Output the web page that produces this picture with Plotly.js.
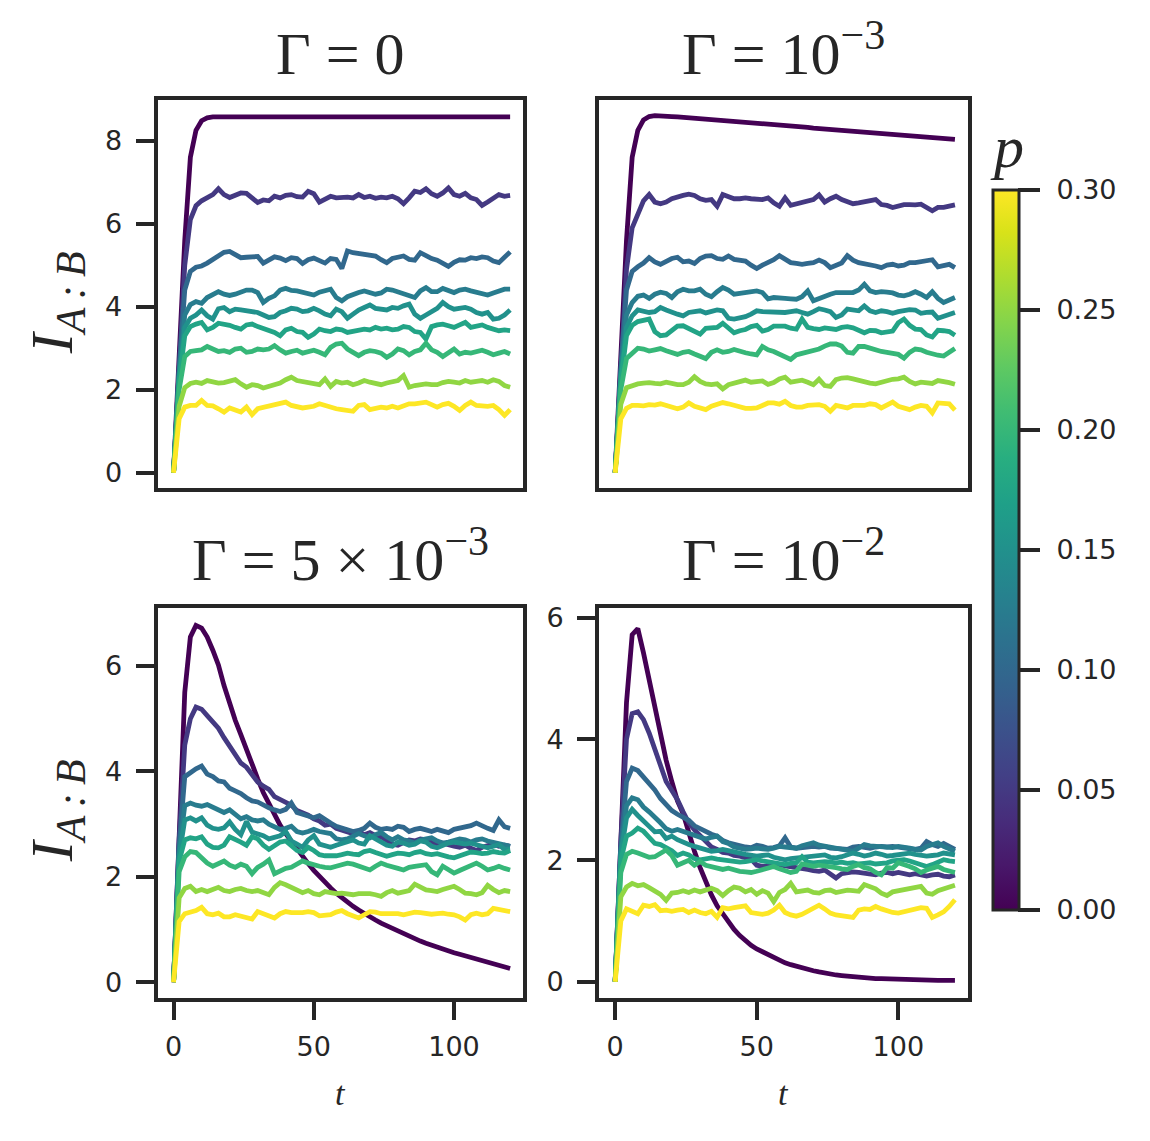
<!DOCTYPE html>
<html>
<head>
<meta charset="utf-8">
<script src="https://cdn.plot.ly/plotly-3.0.1.min.js"></script>
<style>html,body{margin:0;padding:0;background:#fff;}#chart{width:1150px;height:1141px;}</style>
</head>
<body>
<div id="chart"></div>
<script>
// ---------------- data ----------------
const T = [0,2,4,6,8,10,12,14,16,18,20,22,24,26,28,30,32,34,36,38,40,42,44,46,48,50,52,54,56,58,60,62,64,66,68,70,72,74,76,78,80,82,84,86,88,90,92,94,96,98,100,102,104,106,108,110,112,114,116,118,120];
const P_VALUES = [0, 0.05, 0.1, 0.125, 0.15, 0.175, 0.2, 0.25, 0.3];
const P_MAX = 0.3;
const CB_TICKS = [0, 0.05, 0.1, 0.15, 0.2, 0.25, 0.3];
const PANEL_TITLES = ['Γ = 0', 'Γ = 10<sup>−3</sup>', 'Γ = 5 × 10<sup>−3</sup>', 'Γ = 10<sup>−2</sup>'];
const X_TICKS = [0, 50, 100];
const Y_TICKS_TOP = [0, 2, 4, 6, 8];
const Y_TICKS_BOTTOM = [0, 2, 4, 6];

// Gamma = 0
const G0_P000 = [0,2.70,5.60,7.60,8.25,8.48,8.55,8.57,8.57,8.57, 8.57,8.57,8.58,8.57,8.57,8.57,8.57,8.57,8.58,8.57, 8.57,8.57,8.57,8.57,8.57,8.58,8.57,8.57,8.57,8.57, 8.57,8.57,8.58,8.57,8.57,8.57,8.57,8.57,8.57,8.57, 8.57,8.58,8.57,8.57,8.57,8.57,8.57,8.57,8.57,8.58, 8.57,8.57,8.57,8.57,8.57,8.57,8.57,8.57,8.56,8.57, 8.57];
const G0_P050 = [0,2.60,5.00,6.10,6.43,6.55,6.62,6.70,6.84,6.70, 6.63,6.70,6.74,6.73,6.62,6.51,6.57,6.55,6.66,6.62, 6.68,6.70,6.65,6.64,6.78,6.72,6.52,6.60,6.66,6.62, 6.63,6.64,6.62,6.70,6.63,6.66,6.61,6.64,6.62,6.66, 6.60,6.48,6.62,6.78,6.75,6.84,6.72,6.66,6.74,6.86, 6.70,6.66,6.73,6.62,6.58,6.44,6.52,6.62,6.70,6.66, 6.68];
const G0_P100 = [0,2.50,4.40,4.85,4.95,4.98,5.05,5.14,5.24,5.31, 5.33,5.25,5.18,5.19,5.21,5.21,5.05,5.12,5.20,5.17, 5.11,5.18,5.16,5.04,5.13,5.17,5.10,5.05,5.16,5.14, 4.92,5.34,5.30,5.28,5.26,5.24,5.22,5.13,5.06,5.16, 5.18,5.22,5.14,5.12,5.30,5.22,5.16,5.12,5.04,4.97, 5.07,5.13,5.12,5.18,5.16,5.20,5.18,5.10,5.06,5.20, 5.32];
const G0_P125 = [0,2.40,3.80,4.05,4.12,4.08,4.22,4.28,4.36,4.30, 4.27,4.30,4.36,4.40,4.40,4.34,4.10,4.20,4.26,4.40, 4.44,4.39,4.38,4.34,4.32,4.28,4.35,4.40,4.42,4.22, 4.14,4.24,4.30,4.34,4.38,4.33,4.30,4.33,4.42,4.40, 4.36,4.32,4.26,4.22,4.38,4.46,4.36,4.36,4.44,4.40, 4.34,4.40,4.42,4.38,4.34,4.32,4.28,4.33,4.38,4.42, 4.42];
const G0_P150 = [0,2.30,3.50,3.72,3.80,3.92,3.78,3.70,3.95,3.98, 3.88,3.94,3.92,3.90,3.89,3.86,3.80,3.74,3.76,3.86, 3.90,3.96,3.94,3.88,3.90,3.96,3.90,3.82,3.78,3.94, 3.88,3.72,3.82,3.92,3.98,4.04,3.96,3.94,3.92,3.98, 3.96,4.02,4.06,3.82,3.72,3.80,3.88,3.96,4.10,4.00, 3.94,3.96,3.98,3.94,3.86,3.82,3.86,3.70,3.72,3.80, 3.92];
const G0_P175 = [0,2.20,3.30,3.52,3.58,3.62,3.44,3.50,3.60,3.58, 3.55,3.50,3.46,3.56,3.58,3.52,3.48,3.43,3.38,3.30, 3.44,3.48,3.40,3.38,3.26,3.34,3.46,3.42,3.40,3.46, 3.44,3.38,3.40,3.44,3.46,3.44,3.50,3.46,3.48,3.44, 3.46,3.52,3.50,3.40,3.38,3.22,3.52,3.56,3.58,3.54, 3.50,3.56,3.62,3.50,3.52,3.56,3.50,3.46,3.42,3.44, 3.42];
const G0_P200 = [0,2.00,2.80,2.92,2.94,2.96,3.04,2.98,2.92,2.94, 2.90,2.98,3.00,2.90,2.92,2.98,2.96,2.98,3.06,2.96, 2.88,2.92,2.95,2.88,2.92,2.95,2.90,2.84,3.02,3.10, 3.12,2.98,2.90,2.82,2.90,2.94,2.92,2.88,2.78,2.86, 2.98,2.94,2.84,2.92,2.96,3.12,2.96,2.90,2.80,2.88, 2.98,2.86,2.90,2.88,2.92,2.95,2.90,2.84,2.88,2.92, 2.86];
const G0_P250 = [0,1.60,2.05,2.15,2.18,2.15,2.22,2.20,2.16,2.17, 2.20,2.24,2.14,2.06,2.12,2.10,2.04,2.08,2.12,2.16, 2.24,2.30,2.22,2.20,2.17,2.14,2.12,2.26,2.08,2.20, 2.16,2.18,2.12,2.16,2.22,2.18,2.15,2.12,2.16,2.20, 2.22,2.34,2.06,2.10,2.12,2.14,2.12,2.12,2.17,2.20, 2.18,2.16,2.22,2.18,2.20,2.22,2.18,2.24,2.20,2.10, 2.06];
const G0_P300 = [0,1.30,1.58,1.62,1.62,1.74,1.62,1.61,1.54,1.46, 1.56,1.52,1.46,1.58,1.40,1.54,1.57,1.60,1.62,1.66, 1.70,1.62,1.60,1.56,1.58,1.60,1.66,1.62,1.56,1.54, 1.52,1.50,1.48,1.62,1.64,1.52,1.56,1.58,1.56,1.60, 1.56,1.62,1.66,1.66,1.68,1.70,1.64,1.58,1.64,1.67, 1.60,1.50,1.62,1.70,1.62,1.60,1.60,1.62,1.52,1.38, 1.52];

// Gamma = 1e-3
const G1_P000 = [0,2.70,5.60,7.60,8.25,8.50,8.58,8.60,8.60,8.59, 8.58,8.57,8.56,8.55,8.54,8.53,8.52,8.51,8.50,8.48, 8.47,8.46,8.45,8.44,8.43,8.42,8.40,8.39,8.38,8.37, 8.36,8.35,8.34,8.33,8.32,8.30,8.29,8.28,8.27,8.26, 8.25,8.24,8.23,8.22,8.21,8.19,8.18,8.17,8.16,8.15, 8.14,8.13,8.12,8.11,8.10,8.09,8.08,8.07,8.06,8.04, 8.03];
const G1_P050 = [0,2.60,4.90,5.90,6.25,6.55,6.70,6.52,6.48,6.52, 6.60,6.65,6.68,6.71,6.68,6.60,6.56,6.58,6.42,6.70, 6.66,6.60,6.60,6.62,6.60,6.60,6.58,6.62,6.50,6.42, 6.62,6.44,6.48,6.52,6.55,6.58,6.69,6.52,6.60,6.66, 6.58,6.54,6.48,6.50,6.52,6.56,6.58,6.46,6.44,6.39, 6.44,6.46,6.46,6.45,6.47,6.40,6.31,6.39,6.39,6.42, 6.45];
const G1_P100 = [0,2.50,4.40,4.85,4.96,5.05,5.18,5.08,5.02,5.10, 5.16,5.19,5.08,5.10,5.04,5.16,5.22,5.23,5.16,5.14, 5.22,5.14,5.12,5.10,5.00,4.92,5.00,5.06,5.13,5.23, 5.14,5.06,5.04,5.02,5.04,5.06,5.12,5.06,4.94,4.98, 5.05,5.23,5.12,5.06,5.04,5.02,4.98,4.94,5.00,5.02, 4.98,5.00,5.06,5.06,5.08,5.10,5.13,4.96,5.00,5.02, 4.94];
const G1_P125 = [0,2.40,3.80,4.10,4.25,4.28,4.20,4.30,4.35,4.32, 4.22,4.36,4.42,4.38,4.38,4.42,4.30,4.24,4.36,4.46, 4.40,4.30,4.32,4.34,4.36,4.38,4.34,4.19,4.22,4.22, 4.20,4.19,4.18,4.24,4.38,4.14,4.20,4.24,4.30,4.34, 4.35,4.34,4.34,4.40,4.54,4.38,4.34,4.36,4.35,4.33, 4.28,4.26,4.30,4.36,4.30,4.22,4.36,4.20,4.10,4.16, 4.22];
const G1_P150 = [0,2.30,3.50,3.78,3.92,3.90,3.86,3.88,3.98,3.92, 3.86,3.82,3.78,3.86,3.88,3.90,3.85,3.90,3.92,3.90, 3.72,3.70,3.72,3.76,3.82,3.90,3.88,3.87,3.86,3.87, 3.86,3.88,3.90,3.86,3.82,3.88,3.95,3.92,3.88,3.74, 3.80,3.94,3.92,3.90,4.02,3.90,3.86,3.90,3.88,3.84, 3.88,3.90,3.93,3.92,3.84,3.86,3.87,3.72,3.76,3.80, 3.86];
const G1_P175 = [0,2.20,3.30,3.55,3.64,3.68,3.70,3.40,3.30,3.32, 3.44,3.53,3.54,3.48,3.40,3.34,3.48,3.48,3.50,3.60, 3.48,3.37,3.42,3.45,3.52,3.55,3.41,3.45,3.53,3.53, 3.53,3.48,3.46,3.70,3.50,3.47,3.45,3.49,3.48,3.45, 3.50,3.52,3.49,3.44,3.37,3.43,3.42,3.37,3.39,3.41, 3.61,3.70,3.55,3.46,3.45,3.32,3.27,3.43,3.42,3.40, 3.31];
const G1_P200 = [0,2.00,2.75,2.88,3.00,2.98,2.93,2.96,2.99,2.94, 2.90,2.85,2.90,2.92,2.86,2.80,2.75,2.90,2.96,2.90, 2.92,2.97,2.92,2.89,2.86,2.84,3.04,2.96,2.92,2.86, 2.80,2.73,2.84,2.88,2.90,2.94,2.98,3.05,3.10,3.10, 3.05,2.90,2.88,3.04,3.04,3.00,2.95,2.92,2.90,2.88, 2.85,2.76,2.90,2.98,2.96,2.90,2.85,2.83,2.81,2.90, 2.99];
const G1_P250 = [0,1.65,2.05,2.10,2.14,2.16,2.17,2.15,2.14,2.18, 2.14,2.12,2.12,2.18,2.31,2.20,2.14,2.12,2.14,2.02, 2.12,2.15,2.20,2.23,2.18,2.20,2.21,2.13,2.17,2.26, 2.30,2.18,2.20,2.23,2.18,2.12,2.25,2.10,2.08,2.24, 2.28,2.29,2.26,2.22,2.18,2.16,2.14,2.18,2.21,2.25, 2.26,2.30,2.20,2.14,2.18,2.16,2.15,2.22,2.20,2.17, 2.13];
const G1_P300 = [0,1.30,1.55,1.62,1.62,1.61,1.64,1.63,1.66,1.62, 1.56,1.54,1.58,1.68,1.60,1.55,1.52,1.60,1.66,1.69, 1.66,1.63,1.60,1.55,1.55,1.56,1.62,1.68,1.68,1.65, 1.72,1.62,1.58,1.58,1.62,1.64,1.64,1.60,1.48,1.62, 1.60,1.56,1.62,1.62,1.62,1.66,1.64,1.56,1.62,1.70, 1.60,1.57,1.52,1.58,1.62,1.60,1.44,1.68,1.67,1.66, 1.51];

// Gamma = 5e-3
const G2_P000 = [0,3.00,5.50,6.55,6.77,6.72,6.55,6.30,6.02,5.63, 5.28,4.97,4.70,4.40,4.12,3.86,3.60,3.38,3.18,2.98, 2.82,2.67,2.52,2.38,2.25,2.12,2.00,1.89,1.79,1.69, 1.60,1.52,1.44,1.37,1.30,1.24,1.18,1.12,1.07,1.01, 0.96,0.91,0.87,0.82,0.78,0.74,0.70,0.66,0.62,0.59, 0.56,0.53,0.50,0.47,0.44,0.41,0.38,0.35,0.32,0.29, 0.26];
const G2_P050 = [0,2.70,4.50,5.00,5.22,5.18,5.06,4.95,4.82,4.64, 4.48,4.30,4.16,4.08,3.92,3.80,3.72,3.66,3.52,3.46, 3.42,3.36,3.26,3.22,3.17,3.10,3.06,2.98,3.00,2.92, 2.88,2.84,2.82,2.86,2.80,2.84,2.78,2.76,2.70,2.62, 2.60,2.66,2.70,2.68,2.72,2.70,2.66,2.62,2.64,2.60, 2.58,2.56,2.60,2.54,2.50,2.56,2.60,2.62,2.58,2.60, 2.58];
const G2_P100 = [0,2.60,3.90,3.98,4.05,4.10,3.95,3.90,3.82,3.80, 3.68,3.63,3.58,3.50,3.44,3.42,3.36,3.31,3.27,3.24, 3.28,3.40,3.22,3.18,3.14,3.12,3.16,3.08,3.02,2.96, 2.92,2.90,2.86,2.88,2.92,3.02,2.94,2.90,2.92,2.90, 2.96,2.94,2.86,2.90,2.92,2.89,2.86,2.90,2.87,2.84, 2.90,2.92,2.94,2.97,3.02,2.96,2.92,2.88,3.08,2.95, 2.92];
const G2_P125 = [0,2.50,3.35,3.40,3.36,3.34,3.37,3.32,3.28,3.22, 3.27,3.18,3.10,3.14,3.08,3.06,3.08,3.00,2.96,2.90, 2.92,2.96,2.86,2.83,2.86,2.90,2.86,2.84,2.82,2.72, 2.70,2.72,2.78,2.82,2.78,2.74,2.80,2.84,2.76,2.70, 2.76,2.70,2.68,2.64,2.70,2.72,2.74,2.68,2.64,2.66, 2.68,2.72,2.70,2.66,2.70,2.72,2.68,2.66,2.62,2.60, 2.58];
const G2_P150 = [0,2.40,3.08,3.12,3.06,3.12,2.98,2.92,2.90,2.93, 3.04,2.90,2.80,3.05,2.85,2.82,2.78,2.72,2.76,2.78, 2.86,2.68,2.62,2.56,2.70,2.78,2.62,2.58,2.56,2.60, 2.64,2.68,2.70,2.64,2.62,2.78,2.72,2.64,2.60,2.58, 2.66,2.64,2.60,2.62,2.68,2.66,2.58,2.55,2.60,2.64, 2.66,2.64,2.62,2.64,2.60,2.58,2.55,2.58,2.61,2.52, 2.53];
const G2_P175 = [0,2.30,2.70,2.74,2.72,2.76,2.62,2.56,2.55,2.60, 2.76,2.72,2.66,2.60,2.76,2.72,2.60,2.52,2.58,2.66, 2.68,2.60,2.50,2.46,2.56,2.50,2.42,2.40,2.39,2.40, 2.42,2.45,2.43,2.42,2.48,2.50,2.46,2.42,2.39,2.42, 2.45,2.44,2.42,2.46,2.48,2.44,2.42,2.44,2.40,2.38, 2.36,2.40,2.45,2.47,2.46,2.44,2.45,2.48,2.46,2.45, 2.50];
const G2_P200 = [0,2.10,2.38,2.48,2.46,2.36,2.26,2.20,2.24,2.30, 2.22,2.18,2.24,2.20,2.06,2.18,2.24,2.32,2.06,2.12, 2.16,2.18,2.24,2.30,2.26,2.22,2.20,2.18,2.17,2.20, 2.23,2.26,2.24,2.20,2.16,2.13,2.20,2.26,2.22,2.18, 2.16,2.13,2.18,2.20,2.22,2.23,2.10,2.04,2.20,2.14, 2.07,2.12,2.17,2.22,2.26,2.20,2.13,2.16,2.20,2.16, 2.13];
const G2_P250 = [0,1.60,1.78,1.82,1.72,1.76,1.72,1.76,1.80,1.74, 1.72,1.76,1.78,1.74,1.72,1.74,1.70,1.66,1.80,1.89, 1.85,1.80,1.74,1.70,1.74,1.68,1.66,1.72,1.70,1.68, 1.69,1.67,1.66,1.68,1.69,1.68,1.66,1.63,1.70,1.74, 1.69,1.72,1.74,1.86,1.80,1.75,1.74,1.72,1.76,1.78, 1.82,1.76,1.69,1.68,1.66,1.70,1.84,1.76,1.70,1.74, 1.72];
const G2_P300 = [0,1.15,1.30,1.33,1.36,1.42,1.30,1.28,1.31,1.24, 1.24,1.28,1.26,1.24,1.20,1.34,1.30,1.26,1.22,1.30, 1.34,1.32,1.31,1.32,1.34,1.32,1.26,1.26,1.28,1.33, 1.36,1.30,1.25,1.22,1.28,1.34,1.33,1.30,1.30,1.31, 1.30,1.28,1.30,1.33,1.32,1.30,1.29,1.30,1.31,1.29, 1.28,1.24,1.18,1.28,1.31,1.28,1.30,1.40,1.38,1.34, 1.34];

// Gamma = 1e-2
const G3_P000 = [0,2.40,4.60,5.72,5.82,5.42,4.96,4.50,4.06,3.65, 3.30,2.98,2.77,2.44,2.15,1.88,1.63,1.43,1.25,1.11, 0.98,0.86,0.76,0.67,0.60,0.54,0.49,0.44,0.39,0.35, 0.31,0.28,0.25,0.23,0.20,0.18,0.16,0.14,0.13,0.11, 0.10,0.09,0.08,0.07,0.065,0.06,0.05,0.05,0.045,0.04, 0.04,0.035,0.03,0.03,0.03,0.025,0.025,0.02,0.02,0.02, 0.02];
const G3_P050 = [0,2.30,4.00,4.42,4.45,4.32,4.10,3.85,3.55,3.30, 3.15,3.00,2.80,2.62,2.50,2.41,2.32,2.22,2.18,2.13, 2.12,2.08,2.07,2.04,2.02,1.92,1.90,1.91,1.92,1.93, 1.91,1.90,1.88,1.86,1.85,1.83,1.82,1.84,1.78,1.71, 1.78,1.80,1.81,1.80,1.79,1.78,1.76,1.79,1.80,1.78, 1.80,1.78,1.76,1.78,1.76,1.74,1.76,1.77,1.74,1.73, 1.76];
const G3_P100 = [0,2.20,3.30,3.52,3.48,3.38,3.26,3.16,3.02,2.92, 2.82,2.76,2.72,2.66,2.57,2.52,2.47,2.43,2.40,2.33, 2.29,2.26,2.23,2.22,2.21,2.25,2.23,2.20,2.21,2.24, 2.37,2.22,2.20,2.21,2.23,2.23,2.22,2.23,2.20,2.20, 2.19,2.18,2.22,2.23,2.21,2.20,2.22,2.23,2.22,2.23, 2.22,2.21,2.20,2.18,2.20,2.31,2.26,2.23,2.28,2.24, 2.18];
const G3_P125 = [0,2.15,2.90,3.03,3.00,2.88,2.80,2.72,2.62,2.52, 2.48,2.51,2.48,2.46,2.43,2.40,2.35,2.38,2.40,2.31, 2.28,2.22,2.19,2.18,2.19,2.20,2.19,2.18,2.20,2.23, 2.22,2.21,2.20,2.24,2.27,2.29,2.25,2.23,2.21,2.20, 2.18,2.16,2.15,2.20,2.26,2.24,2.23,2.22,2.20,2.21, 2.23,2.22,2.20,2.18,2.17,2.23,2.27,2.29,2.23,2.20, 2.15];
const G3_P150 = [0,2.10,2.70,2.84,2.74,2.64,2.56,2.47,2.48,2.36, 2.40,2.34,2.29,2.26,2.23,2.21,2.18,2.15,2.16,2.18, 2.16,2.13,2.12,2.10,2.09,2.07,2.08,2.09,2.05,2.02, 2.01,2.03,2.04,2.05,2.07,2.06,2.08,2.09,2.05,2.04, 2.06,2.10,2.12,2.10,2.07,2.09,2.12,2.10,2.07,2.08, 2.09,2.10,2.12,2.10,2.08,2.07,2.08,2.09,2.12,2.10, 2.09];
const G3_P175 = [0,2.00,2.40,2.45,2.53,2.48,2.38,2.28,2.26,2.22, 2.16,2.08,2.12,2.09,2.03,2.01,2.03,2.04,2.02,2.01, 1.99,1.97,1.97,1.98,1.99,2.01,1.99,1.97,1.96,1.94, 1.93,1.95,1.96,2.06,1.97,1.96,1.97,1.98,1.97,1.96, 1.97,1.95,1.96,1.94,1.95,1.96,1.94,1.95,1.96,1.99, 2.00,2.01,1.99,1.96,1.93,1.90,1.93,1.97,2.01,1.99, 1.98];
const G3_P200 = [0,1.80,2.10,2.15,2.12,2.08,2.05,2.06,2.12,2.17, 2.08,1.92,1.96,2.00,1.92,1.98,1.92,1.90,1.86,1.85, 1.87,1.84,1.82,1.81,1.80,1.82,1.84,1.86,1.90,1.86, 1.83,1.80,1.82,1.94,1.92,1.90,1.92,1.91,1.90,1.88, 1.86,1.85,1.90,1.93,1.88,1.86,1.80,1.76,1.88,1.87, 1.96,1.94,1.90,1.86,1.80,1.84,1.87,1.90,1.85,1.82, 1.80];
const G3_P250 = [0,1.40,1.56,1.62,1.58,1.60,1.55,1.50,1.44,1.34, 1.46,1.47,1.50,1.47,1.51,1.48,1.50,1.54,1.50,1.42, 1.50,1.56,1.54,1.48,1.52,1.44,1.50,1.46,1.32,1.47, 1.52,1.62,1.48,1.50,1.51,1.47,1.46,1.50,1.51,1.47, 1.49,1.51,1.50,1.49,1.60,1.56,1.53,1.46,1.42,1.48, 1.50,1.51,1.52,1.55,1.57,1.46,1.44,1.50,1.53,1.56, 1.59];
const G3_P300 = [0,1.00,1.20,1.16,1.12,1.26,1.24,1.27,1.17,1.18, 1.16,1.18,1.19,1.14,1.18,1.14,1.12,1.16,1.06,1.22, 1.20,1.22,1.24,1.25,1.14,1.12,1.11,1.13,1.18,1.26, 1.14,1.10,1.08,1.11,1.16,1.22,1.26,1.20,1.13,1.10, 1.09,1.08,1.06,1.18,1.20,1.19,1.24,1.20,1.16,1.14, 1.13,1.15,1.17,1.19,1.22,1.21,1.06,1.10,1.15,1.24, 1.35];

// ---------------- style helpers ----------------
const VIRIDIS = [[0,'#440154'],[0.0627,'#48186a'],[0.1255,'#472d7b'],[0.1882,'#424086'],[0.2510,'#3b528b'],[0.3137,'#33638d'],[0.3765,'#2c728e'],[0.4392,'#26828e'],[0.5020,'#21918c'],[0.5647,'#1fa088'],[0.6275,'#28ae80'],[0.6902,'#3fbc73'],[0.7529,'#5ec962'],[0.8157,'#84d44b'],[0.8784,'#addc30'],[0.9412,'#d8e219'],[1,'#fde725']];
function hex2rgb(h){return [parseInt(h.slice(1,3),16),parseInt(h.slice(3,5),16),parseInt(h.slice(5,7),16)];}
function viridis(f){
  f=Math.max(0,Math.min(1,f));
  for(let i=0;i<VIRIDIS.length-1;i++){
    const a=VIRIDIS[i], b=VIRIDIS[i+1];
    if(f<=b[0]){
      const u=(f-a[0])/(b[0]-a[0]); const ca=hex2rgb(a[1]), cb=hex2rgb(b[1]);
      return 'rgb('+ca.map((v,k)=>Math.round(v+(cb[k]-v)*u)).join(',')+')';
    }
  }
  return VIRIDIS[VIRIDIS.length-1][1];
}

const PANELS = [
  [G0_P000,G0_P050,G0_P100,G0_P125,G0_P150,G0_P175,G0_P200,G0_P250,G0_P300],
  [G1_P000,G1_P050,G1_P100,G1_P125,G1_P150,G1_P175,G1_P200,G1_P250,G1_P300],
  [G2_P000,G2_P050,G2_P100,G2_P125,G2_P150,G2_P175,G2_P200,G2_P250,G2_P300],
  [G3_P000,G3_P050,G3_P100,G3_P125,G3_P150,G3_P175,G3_P200,G3_P250,G3_P300]
];

const traces = [];
PANELS.forEach((series, k) => {
  const sfx = k === 0 ? '' : String(k + 1);
  series.forEach((ys, j) => {
    traces.push({
      type: 'scatter', mode: 'lines', x: T, y: ys,
      xaxis: 'x' + sfx, yaxis: 'y' + sfx,
      line: {color: viridis(P_VALUES[j] / P_MAX), width: 4.8},
      showlegend: false, hoverinfo: 'skip'
    });
  });
});

const INK = '#262626';
const TICKFONT = {family: 'DejaVu Sans', size: 27, color: INK};
const TITLE_FONT = {family: 'Liberation Serif', size: 60, color: INK};
const ITALIC_FONT = {family: 'Liberation Serif', size: 60, color: INK, style: 'italic'};

// colorbar carrier (its scale labels are drawn by the companion axis y5)
const CB_DOMAIN = [0.2025, 0.8335];
traces.push({
  type: 'scatter', mode: 'markers', x: [0], y: [0], xaxis: 'x', yaxis: 'y5',
  marker: {
    color: [0], opacity: 0, size: 1, cmin: 0, cmax: P_MAX, colorscale: VIRIDIS, showscale: true,
    colorbar: {
      thickness: 26, thicknessmode: 'pixels', len: CB_DOMAIN[1] - CB_DOMAIN[0], lenmode: 'fraction',
      x: 0.8635, xanchor: 'left', y: (CB_DOMAIN[0] + CB_DOMAIN[1]) / 2, yanchor: 'middle', xpad: 0, ypad: 0,
      outlinewidth: 3, outlinecolor: INK,
      ticks: '', showticklabels: false
    }
  },
  showlegend: false, hoverinfo: 'skip'
});

const XR = [-5.7, 124.6];
const XD_L = [0.1370, 0.4548], XD_R = [0.5209, 0.8417];
const YD_T = [0.5719, 0.9124], YD_B = [0.1253, 0.4671];

function ax(extra){
  return Object.assign({
    showline: true, mirror: true, linecolor: INK, linewidth: 4,
    showgrid: false, zeroline: false,
    ticks: 'outside', ticklen: 18, tickwidth: 4, tickcolor: INK,
    tickfont: TICKFONT, fixedrange: true
  }, extra);
}

const layout = {
  width: 1150, height: 1141,
  margin: {l: 0, r: 0, t: 0, b: 0},
  paper_bgcolor: '#ffffff', plot_bgcolor: 'rgba(0,0,0,0)',
  showlegend: false,
  xaxis:  ax({domain: XD_L, anchor: 'y',  range: XR, showticklabels: false, ticks: ''}),
  yaxis:  ax({domain: YD_T, anchor: 'x',  range: [-0.38, 8.98], tickmode: 'array', tickvals: Y_TICKS_TOP, ticklabelstandoff: 8}),
  xaxis2: ax({domain: XD_R, anchor: 'y2', range: XR, showticklabels: false, ticks: ''}),
  yaxis2: ax({domain: YD_T, anchor: 'x2', range: [-0.38, 8.98], showticklabels: false, ticks: ''}),
  xaxis3: ax({domain: XD_L, anchor: 'y3', range: XR, tickmode: 'array', tickvals: X_TICKS, ticklabelstandoff: 4}),
  yaxis3: ax({domain: YD_B, anchor: 'x3', range: [-0.30, 7.10], tickmode: 'array', tickvals: Y_TICKS_BOTTOM, ticklabelstandoff: 8}),
  xaxis4: ax({domain: XD_R, anchor: 'y4', range: XR, tickmode: 'array', tickvals: X_TICKS, ticklabelstandoff: 4}),
  yaxis4: ax({domain: YD_B, anchor: 'x4', range: [-0.27, 6.16], tickmode: 'array', tickvals: Y_TICKS_BOTTOM, ticklabelstandoff: 8}),
  // scale for the colorbar p values
  yaxis5: {domain: CB_DOMAIN, anchor: 'free', position: 1017/1150, side: 'right', range: [0, P_MAX],
    showline: false, showgrid: false, zeroline: false, fixedrange: true,
    ticks: 'outside', ticklen: 22, tickwidth: 4, tickcolor: INK,
    tickmode: 'array', tickvals: CB_TICKS, tickformat: '.2f', tickfont: TICKFONT, ticklabelstandoff: 11},
  annotations: []
};

const titlePos = [[0.2957, 1 - 89/1141], [0.6813, 1 - 89/1141], [0.2957, 1 - 595/1141], [0.6813, 1 - 595/1141]];
PANEL_TITLES.forEach((txt, k) => {
  layout.annotations.push({text: txt, xref: 'paper', yref: 'paper', x: titlePos[k][0], y: titlePos[k][1],
    xanchor: 'center', yanchor: 'bottom', showarrow: false, font: TITLE_FONT});
});
// y-axis labels
[1 - 303/1141, 1 - 811/1141].forEach(y => {
  layout.annotations.push({text: 'I<sub>A\u2009:\u2009B</sub>', xref: 'paper', yref: 'paper',
    x: 0.049, y: y, xanchor: 'center', yanchor: 'middle', textangle: -90, showarrow: false, font: ITALIC_FONT});
});
// x-axis labels
[0.2957, 0.6813].forEach(x => {
  layout.annotations.push({text: 't', xref: 'paper', yref: 'paper', x: x, y: 1 - 1093/1141,
    xanchor: 'center', yanchor: 'middle', showarrow: false, font: {family: 'Liberation Serif', size: 34, color: INK, style: 'italic'}});
});
// colorbar label
layout.annotations.push({text: 'p', xref: 'paper', yref: 'paper', x: 0.8757, y: 1 - 147/1141,
  xanchor: 'center', yanchor: 'middle', showarrow: false, font: ITALIC_FONT});

Plotly.newPlot('chart', traces, layout, {displayModeBar: false, staticPlot: true});
</script>
</body>
</html>
